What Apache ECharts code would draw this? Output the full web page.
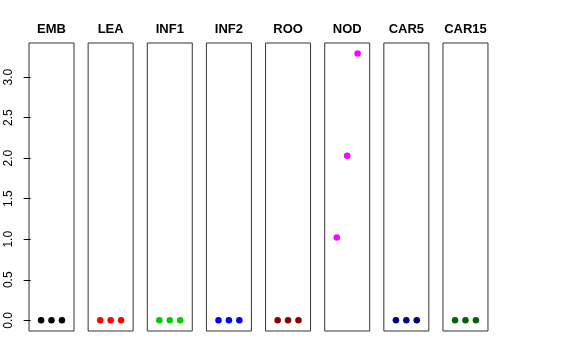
<!DOCTYPE html>
<html>
<head>
<meta charset="utf-8">
<script src="https://cdn.jsdelivr.net/npm/echarts@6/dist/echarts.min.js"></script>
<style>html,body{margin:0;padding:0;background:#fff}#c{width:576px;height:360px}</style>
</head>
<body>
<div id="c"></div>
<script>
const categories = ['EMB', 'LEA', 'INF1', 'INF2', 'ROO', 'NOD', 'CAR5', 'CAR15'];
const xPositions = [1, 2, 3];
const seriesValues = [
  [0, 0, 0],
  [0, 0, 0],
  [0, 0, 0],
  [0, 0, 0],
  [0, 0, 0],
  [1.02, 2.03, 3.29],
  [0, 0, 0],
  [0, 0, 0]
];
const colors = ['#000000', '#FF0000', '#00CD00', '#0000FF', '#8B0000', '#FF00FF', '#000080', '#006400'];
const yTicks = [0, 0.5, 1, 1.5, 2, 2.5, 3];

(function () {
  const chart = echarts.init(document.getElementById('c'), null, {renderer: 'canvas'});
  const left0 = 29, step = 59.14, w = 45, gTop = 43, h = 288;
  const yMin = -0.1316, yMax = 3.42;
  const grids = [], xAxes = [], yAxes = [], series = [], titles = [];
  categories.forEach((cat, i) => {
    const l = left0 + i * step;
    grids.push({left: l, top: gTop, width: w, height: h, show: true, borderColor: '#333', borderWidth: 1, backgroundColor: 'transparent'});
    xAxes.push({type: 'value', gridIndex: i, min: -0.16, max: 4.16, show: false});
    yAxes.push({
      type: 'value', gridIndex: i, min: yMin, max: yMax, show: i === 0,
      splitLine: {show: false},
      axisLine: {show: false},
      axisTick: {show: true, inside: false, length: 7, lineStyle: {color: '#000'}, customValues: yTicks},
      axisLabel: {show: true, rotate: 90, margin: 14, color: '#000', fontSize: 12, fontFamily: 'Liberation Sans',
        customValues: yTicks, formatter: v => v.toFixed(1)}
    });
    series.push({
      type: 'scatter', xAxisIndex: i, yAxisIndex: i, symbol: 'circle', symbolSize: 6.5,
      itemStyle: {color: colors[i], opacity: 1},
      data: xPositions.map((x, j) => [x, seriesValues[i][j]]),
      silent: true
    });
    titles.push({text: cat, left: l + w / 2, top: 23, padding: 0, textAlign: 'center',
      textStyle: {fontSize: 13, fontWeight: 'bold', color: '#000', fontFamily: 'Liberation Sans'}});
  });
  chart.setOption({animation: false, title: titles, grid: grids, xAxis: xAxes, yAxis: yAxes, series: series});
})();
</script>
</body>
</html>
